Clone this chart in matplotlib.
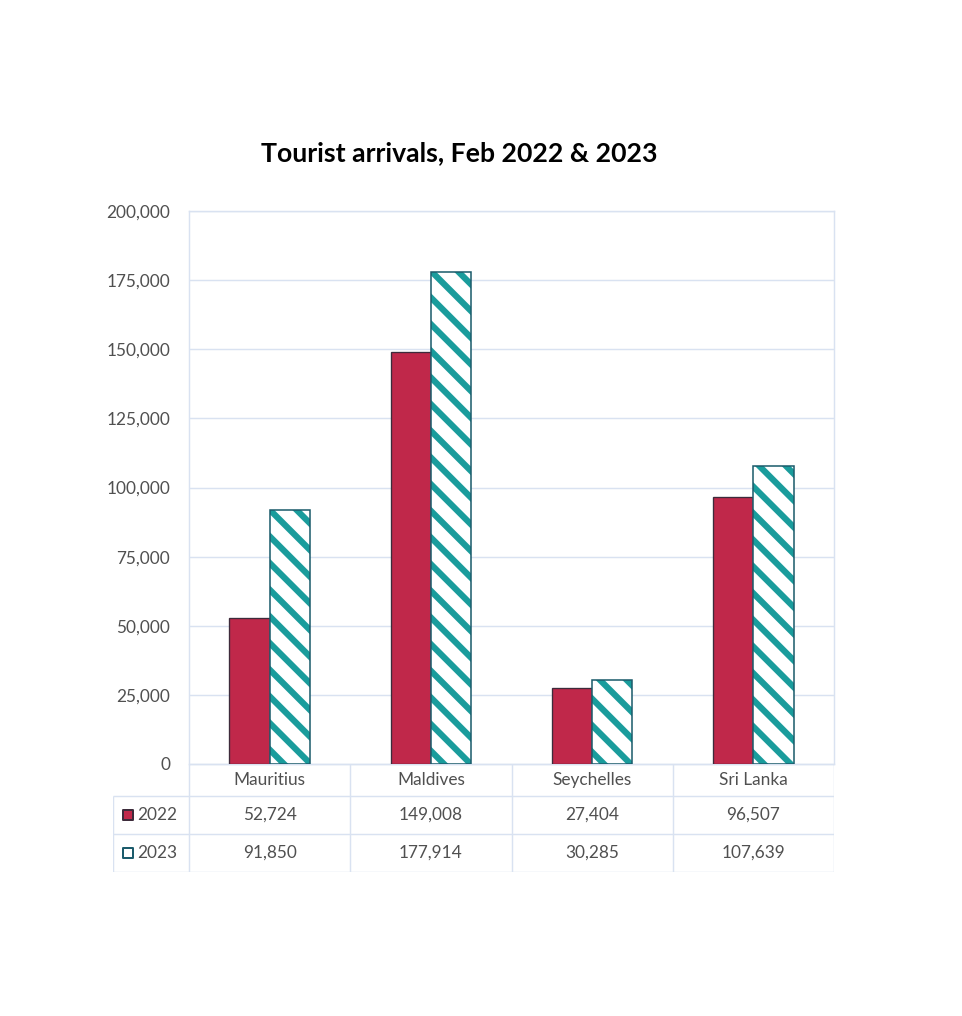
import matplotlib

matplotlib.use("Agg")
import matplotlib.pyplot as plt
import numpy as np

# data
CATEGORIES = ["Mauritius", "Maldives", "Seychelles", "Sri Lanka"]
SERIES = ["2022", "2023"]
ARRIVALS_2022 = [52724, 149008, 27404, 96507]
ARRIVALS_2023 = [91850, 177914, 30285, 107639]
Y_TICKS = [0, 25000, 50000, 75000, 100000, 125000, 150000, 175000, 200000]

RED = "#c0284a"
RED_EDGE = "#3d2b3b"
TEAL = "#1a9c9c"
TEAL_EDGE = "#1c5c6c"
GRID = "#d9e2f1"
TEXT = "#505050"
FONT = ["Lato", "DejaVu Sans"]
FS = 15.5

DPI = 80
W, H = 962, 1016

plt.rcParams["font.family"] = FONT
plt.rcParams["hatch.linewidth"] = 5.6

fig = plt.figure(figsize=(W / DPI, H / DPI), dpi=DPI, facecolor="white")

# plot area in pixels of the reference
left, right, top, bottom = 189, 834, 211, 764
ax = fig.add_axes([left / W, 1 - bottom / H, (right - left) / W, (bottom - top) / H])

x = np.arange(len(CATEGORIES))
bw = 0.25
ax.bar(x - bw / 2, ARRIVALS_2022, bw, color=RED, edgecolor=RED_EDGE, linewidth=1.2, zorder=3)
ax.bar(x + bw / 2, ARRIVALS_2023, bw, color="white", edgecolor=TEAL, hatch="\\", linewidth=0, zorder=3)
ax.bar(x + bw / 2, ARRIVALS_2023, bw, fill=False, edgecolor=TEAL_EDGE, linewidth=1.4, zorder=4)

ax.set_xlim(-0.5, len(CATEGORIES) - 0.5)
ax.set_ylim(0, 200000)
ax.set_yticks(Y_TICKS)
ax.set_yticklabels([f"{v:,}" for v in Y_TICKS], fontsize=FS, color=TEXT)
ax.tick_params(axis="y", length=0, pad=17)
ax.set_xticks([])
ax.grid(axis="y", color=GRID, linewidth=1.3, zorder=0)
for s in ax.spines.values():
    s.set_color(GRID)
    s.set_linewidth(1.3)

# data table below the plot
tleft, tbottom = 113, 872
row_edges = [0, 38, 76, 108]  # pixel heights: 2023 row, 2022 row, category row
label_w = (left - tleft) / (right - left) * len(CATEGORIES)
tax = fig.add_axes([tleft / W, 1 - tbottom / H, (right - tleft) / W, (tbottom - bottom) / H])
tax.set_xlim(-0.5 - label_w, len(CATEGORIES) - 0.5)
tax.set_ylim(0, row_edges[-1])
tax.axis("off")

lk = dict(color=GRID, linewidth=1.3, solid_capstyle="butt")
# horizontal lines
tax.plot([-0.5, len(CATEGORIES) - 0.5], [row_edges[3]] * 2, **lk)
for yv in row_edges[:3]:
    tax.plot([-0.5 - label_w, len(CATEGORIES) - 0.5], [yv] * 2, **lk)
# vertical lines
for xv in np.arange(-0.5, len(CATEGORIES), 1.0):
    tax.plot([xv, xv], [0, row_edges[3]], **lk)
tax.plot([-0.5 - label_w] * 2, [0, row_edges[2]], **lk)

ymid = [(row_edges[i] + row_edges[i + 1]) / 2 for i in range(3)]
for i, cat in enumerate(CATEGORIES):
    tax.text(i, ymid[2], cat, ha="center", va="center", fontsize=FS, color=TEXT)
    tax.text(i, ymid[1], f"{ARRIVALS_2022[i]:,}", ha="center", va="center", fontsize=FS, color=TEXT)
    tax.text(i, ymid[0], f"{ARRIVALS_2023[i]:,}", ha="center", va="center", fontsize=FS, color=TEXT)

# legend keys in the row label cells
for yv, name, face, edge in [(ymid[1], SERIES[0], RED, RED_EDGE), (ymid[0], SERIES[1], "white", TEAL_EDGE)]:
    tax.scatter([-0.5 - label_w + 0.095], [yv], s=70, marker="s", facecolor=face, edgecolor=edge, linewidth=1.8, clip_on=False)
    tax.text(-0.5 - label_w + 0.15, yv, name, ha="left", va="center", fontsize=FS, color=TEXT)

fig.text(459 / W, 1 - 153 / H, "Tourist arrivals, Feb 2022 & 2023", ha="center", va="center",
         fontsize=24, fontweight="bold", color="black")

fig.savefig("out.png", dpi=DPI, facecolor="white")
